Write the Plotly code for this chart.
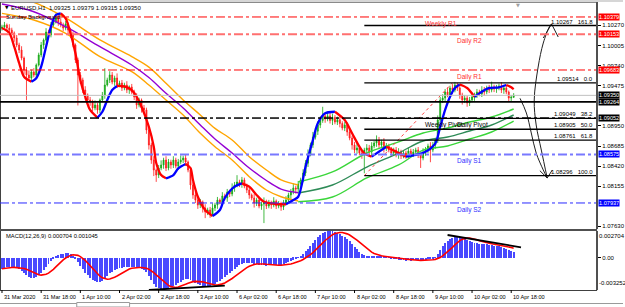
import plotly.graph_objects as go

# ---------------------------------------------------------------- data
CLOSE = [
    1.10247, 1.10274, 1.10234, 1.10208, 1.10169, 1.10103, 1.10011, 1.09945, 1.09840, 1.09683,
    1.09617, 1.09578, 1.09657, 1.09617, 1.09749, 1.09880, 1.10011, 1.10077, 1.10182, 1.10142,
    1.10274, 1.10313, 1.10366, 1.10313, 1.10274, 1.10234, 1.10287, 1.10208, 1.10142, 1.10011,
    1.09814, 1.09617, 1.09552, 1.09420, 1.09355, 1.09289, 1.09263, 1.09184, 1.09223, 1.09158,
    1.09289, 1.09355, 1.09486, 1.09552, 1.09617, 1.09525, 1.09578, 1.09486, 1.09512, 1.09447,
    1.09486, 1.09420, 1.09460, 1.09394, 1.09328, 1.09223, 1.09289, 1.09184, 1.09158, 1.08895,
    1.08698, 1.08501, 1.08370, 1.08304, 1.08396, 1.08436, 1.08501, 1.08396, 1.08475, 1.08436,
    1.08501, 1.08422, 1.08475, 1.08501, 1.08527, 1.08475, 1.08370, 1.08173, 1.08042, 1.07976,
    1.07910, 1.07950, 1.07871, 1.07818, 1.07845, 1.07792, 1.07871, 1.07910, 1.07976, 1.07950,
    1.08029, 1.08002, 1.08081, 1.08055, 1.08134, 1.08173, 1.08212, 1.08186, 1.08239, 1.08160,
    1.08107, 1.08042, 1.08002, 1.07937, 1.07976, 1.07897, 1.07923, 1.07950, 1.07897, 1.07937,
    1.07910, 1.07963, 1.07897, 1.07923, 1.07884, 1.07937, 1.07976, 1.08042, 1.08081, 1.08134,
    1.08120, 1.08186, 1.08239, 1.08330, 1.08460, 1.08580, 1.08700, 1.08800, 1.08880, 1.08960,
    1.09020, 1.09080, 1.09040, 1.09080, 1.09020, 1.09060, 1.09000, 1.09030, 1.08980, 1.08921,
    1.08961, 1.08869, 1.08790, 1.08698, 1.08632, 1.08659, 1.08593, 1.08567, 1.08632, 1.08659,
    1.08606, 1.08685, 1.08724, 1.08764, 1.08698, 1.08738, 1.08659, 1.08685, 1.08632, 1.08593,
    1.08632, 1.08567, 1.08606, 1.08554, 1.08593, 1.08567, 1.08619, 1.08580, 1.08606, 1.08632,
    1.08567, 1.08527, 1.08606, 1.08632, 1.08685, 1.08632, 1.08698, 1.08764, 1.09026, 1.09289,
    1.09315, 1.09394, 1.09355, 1.09447, 1.09420, 1.09486, 1.09447, 1.09355, 1.09289, 1.09315,
    1.09250, 1.09289, 1.09328, 1.09355, 1.09394, 1.09368, 1.09420, 1.09394, 1.09447, 1.09420,
    1.09460, 1.09433, 1.09447, 1.09473, 1.09420, 1.09447, 1.09394, 1.09315, 1.09325, 1.09350,
]
FIRST_OPEN = 1.10230
WICK_UP_PIPS = [
    3, 4, 2, 5, 3, 2, 4, 3, 5, 2, 4, 6, 3, 5, 2, 3, 4, 2, 5, 3,
    4, 3, 6, 4, 5, 3, 4, 2, 3, 4, 2, 3, 4, 3, 5, 2, 4, 3, 6, 3,
    2, 4, 22, 3, 5, 4, 3, 6, 3, 4, 3, 5, 2, 4, 3, 5, 3, 2, 4, 3,
    4, 3, 5, 2, 4, 6, 3, 5, 4, 3, 5, 3, 4, 6, 3, 4, 2, 3, 4, 5,
    3, 4, 2, 5, 3, 4, 6, 3, 4, 2, 5, 3, 4, 3, 6, 4, 9, 3, 4, 3,
    3, 4, 2, 5, 3, 4, 3, 6, 3, 4, 3, 5, 2, 4, 3, 4, 5, 3, 4, 6,
    3, 4, 3, 5, 4, 6, 3, 7, 4, 5, 5, 12, 3, 6, 4, 5, 3, 4, 6, 3,
    4, 3, 5, 3, 4, 6, 3, 4, 3, 5, 4, 5, 3, 6, 4, 3, 5, 4, 3, 4,
    3, 4, 5, 3, 4, 3, 5, 3, 4, 3, 4, 3, 5, 4, 3, 5, 4, 3, 6, 4,
    5, 4, 6, 3, 5, 4, 3, 5, 3, 4, 3, 4, 5, 3, 4, 3, 5, 4, 3, 4,
    7, 3, 4, 3, 5, 3, 4, 2, 3, 2.9,
]
WICK_DN_PIPS = [
    3, 2, 4, 3, 2, 5, 3, 4, 3, 6, 33, 4, 5, 3, 4, 2, 3, 5, 2, 4,
    3, 4, 2, 5, 3, 4, 3, 5, 4, 3, 4, 40, 5, 4, 6, 3, 5, 4, 3, 5,
    4, 3, 5, 2, 4, 3, 5, 4, 3, 4, 3, 4, 5, 3, 4, 5, 3, 6, 4, 5,
    6, 5, 8, 9, 4, 3, 5, 4, 3, 5, 4, 3, 5, 3, 4, 5, 3, 6, 5, 4,
    5, 4, 6, 8, 4, 5, 3, 4, 5, 3, 4, 3, 5, 4, 3, 5, 3, 4, 5, 3,
    4, 5, 3, 6, 4, 3, 5, 25, 4, 3, 5, 3, 4, 3, 5, 4, 3, 4, 5, 3,
    6, 4, 5, 3, 4, 5, 3, 4, 3, 5, 4, 3, 5, 3, 4, 6, 3, 4, 5, 3,
    4, 5, 3, 6, 4, 5, 3, 5, 24, 4, 5, 4, 3, 5, 4, 3, 6, 4, 3, 5,
    4, 3, 5, 4, 3, 5, 4, 3, 4, 5, 4, 13, 3, 5, 4, 16, 3, 5, 4, 3,
    4, 5, 3, 4, 5, 3, 4, 5, 6, 4, 5, 4, 3, 5, 4, 3, 4, 5, 3, 4,
    3, 4, 5, 3, 4, 5, 3, 4, 5, 1,
]
PIP = 0.0001

# colour-changing smoothed MA (read at key bars)
MA_BARS = [0, 3, 5, 7, 9, 12, 14, 16, 18, 20, 22, 24, 26, 28, 30, 32, 34, 36, 39, 41,
           43, 45, 47, 50, 53, 55, 57, 60, 62, 63, 65, 67, 70, 72, 75, 77, 78, 80, 83, 86,
           89, 91, 95, 98, 101, 104, 107, 112, 116, 119, 121, 124, 127, 129, 132, 136, 140, 143, 146, 148,
           151, 155, 157, 161, 165, 169, 173, 177, 179, 181, 183, 185, 187, 190, 193, 196, 199, 203, 206, 208, 209]
MA_VALS = [1.10234, 1.10169, 1.09989, 1.09775, 1.09595, 1.09529, 1.09574, 1.09726, 1.09989, 1.10251,
           1.10405, 1.10427, 1.10362, 1.10165, 1.09902, 1.09552, 1.09332, 1.09158, 1.09057, 1.09135,
           1.09289, 1.09420, 1.09473, 1.09468, 1.09420, 1.09332, 1.09201, 1.08938, 1.08676, 1.08462,
           1.08304, 1.08261, 1.08304, 1.08392, 1.08449, 1.08396, 1.08239, 1.08019, 1.07845, 1.07766,
           1.07845, 1.08002, 1.08151, 1.08195, 1.08151, 1.08042, 1.07954, 1.07925, 1.07920, 1.07976,
           1.08019, 1.08413, 1.08764, 1.08983, 1.09114, 1.09135, 1.09026, 1.08852, 1.08676, 1.08589,
           1.08545, 1.08632, 1.08676, 1.08610, 1.08545, 1.08567, 1.08610, 1.08721, 1.08938, 1.09158,
           1.09332, 1.09447, 1.09493, 1.09447, 1.09332, 1.09398, 1.09447, 1.09456, 1.09486, 1.09456,
           1.09430]

# slow MA with envelope (bearish phase)
ENV_BARS = [0, 13, 26, 40, 53, 60, 67, 74, 81, 87, 94, 101, 108, 114, 121]
ENV_MID = [1.10549, 1.10448, 1.10251, 1.09989, 1.09749, 1.09584, 1.09377, 1.09184, 1.08961, 1.08777,
           1.08593, 1.08396, 1.08232, 1.08120, 1.08072]
ENV_UP = [1.10660, 1.10570, 1.10366, 1.10077, 1.09858, 1.09720, 1.09508, 1.09289, 1.09092, 1.08917,
          1.08764, 1.08545, 1.08370, 1.08239, 1.08173]
ENV_LO = [1.10427, 1.10339, 1.10165, 1.09858, 1.09661, 1.09486, 1.09289, 1.09092, 1.08852, 1.08676,
          1.08501, 1.08282, 1.08107, 1.08019, 1.07963]
# same indicator, bullish phase
GRN_BARS = [121, 135, 149, 162, 172, 182, 191, 200, 209]
GRN_MID = [1.08068, 1.08173, 1.08409, 1.08593, 1.08751, 1.08803, 1.08882, 1.08961, 1.09092]
GRN_UP = [1.08212, 1.08344, 1.08593, 1.08738, 1.08856, 1.08921, 1.09000, 1.09066, 1.09171]
GRN_LO = [1.07954, 1.08015, 1.08265, 1.08436, 1.08632, 1.08685, 1.08777, 1.08869, 1.09013]

# MACD(12,26,9)
MACD_START = -0.0012
MACD_TOP, MACD_BOTTOM = 0.002704, -0.003252
MACD_TEXT = "MACD(12,26,9) 0.000704 0.001045"
MACD_DIV1_BARS, MACD_DIV1_VALS = [60, 91], [-0.00325, -0.00282]
MACD_DIV2_BARS, MACD_DIV2_VALS = [182, 212], [0.00230, 0.00106]

# pivots
PIVOT_NAMES = ["Weekly R1", "Daily R2", "Daily R1", "Weekly Pivot", "Daily Pivot", "Daily S1", "Daily S2"]
PIVOT_VALUES = [1.10379, 1.10153, 1.09683, 1.09052, 1.09052, 1.08575, 1.07937]
HLINE_BLACK = 1.09264
BID = 1.09350

# fibonacci
FIB_PRICES = [1.10267, 1.09514, 1.09049, 1.08905, 1.08761, 1.08296]
FIB_LEVELS = ["161.8", "0.0", "38.2", "50.0", "61.8", "100.0"]
FIB_BARS = [148, 184]
FIB_ANCHORS = [1.08296, 1.09514]

# hand-drawn projection
PATH_DN_BARS = [211.6, 214.2, 216.2, 218.2, 221.1, 222.7]
PATH_DN_VALS = [1.09311, 1.09118, 1.08856, 1.08593, 1.08370, 1.08265]
HEAD_DN_BARS = [219.7, 222.7, 224.8]
HEAD_DN_VALS = [1.08361, 1.08265, 1.08370]
PATH_UP_BARS = [222.7, 220.3, 218.2, 217.4, 219.0, 221.1, 223.6, 224.5]
PATH_UP_VALS = [1.08265, 1.08632, 1.08961, 1.09289, 1.09722, 1.10037, 1.10251, 1.10287]
HEAD_UP_BARS = [221.1, 224.5, 227.2]
HEAD_UP_VALS = [1.10103, 1.10287, 1.10116]

PRICE_TICKS = [1.10270, 1.10005, 1.09740, 1.09475, 1.08950, 1.08685, 1.08420, 1.08155, 1.07630]
BOX_VALUES = [1.10379, 1.10153, 1.09683, 1.09350, 1.09264, 1.09052, 1.08575, 1.07937]

TIME_BARS = [0, 16, 32, 48, 64, 80, 96, 112, 128, 144, 160, 176, 192, 208]
TIME_LABELS = ["31 Mar 2020", "31 Mar 18:00", "1 Apr 10:00", "2 Apr 02:00", "2 Apr 18:00", "3 Apr 10:00",
               "6 Apr 02:00", "6 Apr 18:00", "7 Apr 10:00", "8 Apr 02:00", "8 Apr 18:00", "9 Apr 10:00",
               "10 Apr 02:00", "10 Apr 18:00"]
TITLE = "EURUSD,H1  1.09325 1.09379 1.09315 1.09350"

# ---------------------------------------------------------------- layout constants
W, H = 625, 307
BAR_PX, FIRST_BAR_PX, PLOT_RIGHT_PX = 2.456, 2.0, 598.0
MAIN_TOP_PX, MAIN_BOT_PX = 0.0, 229.0
MACD_TOP_PX, MACD_BOT_PX = 231.0, 290.0
PRICE_AT_TOP, PRICE_PER_PX = 1.10602, 0.0001313
FONT = "Liberation Sans"


def px_x(p):
    return p / W


def px_y(p):
    return 1 - p / H


XMIN = -FIRST_BAR_PX / BAR_PX
XMAX = (PLOT_RIGHT_PX - FIRST_BAR_PX) / BAR_PX
YMAX = PRICE_AT_TOP - MAIN_TOP_PX * PRICE_PER_PX
YMIN = PRICE_AT_TOP - MAIN_BOT_PX * PRICE_PER_PX

PIVOT_STYLE = {
    "Weekly R1": dict(color="#ff0000", width=1, label="#ff3030", bar=172),
    "Daily R2": dict(color="#ff7070", width=2, label="#ff3030", bar=185),
    "Daily R1": dict(color="#ff0000", width=1, label="#ff3030", bar=185),
    "Weekly Pivot": dict(color="#000000", width=1, label="#000000", bar=172),
    "Daily Pivot": dict(color="#000000", width=1, label="#000000", bar=185),
    "Daily S1": dict(color="#7878ff", width=2, label="#3030ff", bar=185),
    "Daily S2": dict(color="#2a2aff", width=1, label="#3030ff", bar=185),
}
BOX_COLORS = ["#ff0000", "#ff0000", "#ff0000", "#000000", "#000000", "#000000", "#0000ff", "#0000ff"]

# ---------------------------------------------------------------- build OHLC
n = len(CLOSE)
idx = list(range(n))
OPEN = [FIRST_OPEN] + CLOSE[:-1]
HIGH = [max(o, c) + u * PIP for o, c, u in zip(OPEN, CLOSE, WICK_UP_PIPS)]
LOW = [min(o, c) - d * PIP for o, c, d in zip(OPEN, CLOSE, WICK_DN_PIPS)]

# MACD
a12, a26 = 2 / 13, 2 / 27
e12, e26 = CLOSE[0], CLOSE[0] - MACD_START
macd = []
for c in CLOSE:
    e12 += a12 * (c - e12)
    e26 += a26 * (c - e26)
    macd.append(e12 - e26)
signal = []
for k in range(n):
    w = macd[max(0, k - 8):k + 1]
    signal.append(sum(w) / len(w))

fig = go.Figure()

# envelopes
for xs, ys, col in [(ENV_BARS, ENV_UP, "#ffa500"), (ENV_BARS, ENV_LO, "#ffa500"), (ENV_BARS, ENV_MID, "#9400d3"),
                    (GRN_BARS, GRN_UP, "#3ad63a"), (GRN_BARS, GRN_LO, "#3ad63a"), (GRN_BARS, GRN_MID, "#2e8b57")]:
    fig.add_trace(go.Scatter(x=xs, y=ys, mode="lines", line=dict(color=col, width=1.4, shape="spline", smoothing=1.0),
                             hoverinfo="skip"))

# candles
fig.add_trace(go.Candlestick(
    x=idx, open=OPEN, high=HIGH, low=LOW, close=CLOSE,
    increasing=dict(line=dict(color="#14a814", width=0.8), fillcolor="#14a814"),
    decreasing=dict(line=dict(color="#ff1a1a", width=0.8), fillcolor="#ff1a1a"),
    whiskerwidth=0, hoverinfo="skip"))

# colour-changing MA split into rising / falling runs
runs = []
cur = [0]
cur_up = MA_VALS[1] >= MA_VALS[0]
for k in range(1, len(MA_BARS)):
    up = MA_VALS[k] >= MA_VALS[k - 1]
    if up != cur_up:
        runs.append((cur, cur_up))
        cur = [k - 1]
        cur_up = up
    cur.append(k)
runs.append((cur, cur_up))
for ids, up in runs:
    fig.add_trace(go.Scatter(x=[MA_BARS[i] for i in ids], y=[MA_VALS[i] for i in ids], mode="lines",
                             line=dict(color="#0000ff" if up else "#ff0000", width=2.3, shape="spline", smoothing=0.8),
                             hoverinfo="skip"))

# fib trend line
fig.add_trace(go.Scatter(x=FIB_BARS, y=FIB_ANCHORS, mode="lines", line=dict(color="#ff4040", width=1, dash="dot"),
                         hoverinfo="skip"))

# projection drawing
for xs, ys, sh in [(PATH_DN_BARS, PATH_DN_VALS, "spline"), (HEAD_DN_BARS, HEAD_DN_VALS, "linear"),
                   (PATH_UP_BARS, PATH_UP_VALS, "spline"), (HEAD_UP_BARS, HEAD_UP_VALS, "linear")]:
    fig.add_trace(go.Scatter(x=xs, y=ys, mode="lines", line=dict(color="#202020", width=1, shape=sh),
                             hoverinfo="skip", cliponaxis=False))

# MACD
fig.add_trace(go.Bar(x=idx, y=macd, marker=dict(color="#4848ff", line=dict(width=0)), width=0.4,
                     xaxis="x2", yaxis="y2", hoverinfo="skip"))
fig.add_trace(go.Scatter(x=idx, y=signal, mode="lines", line=dict(color="#ff0000", width=1.6),
                         xaxis="x2", yaxis="y2", hoverinfo="skip"))
for xs, ys in [(MACD_DIV1_BARS, MACD_DIV1_VALS), (MACD_DIV2_BARS, MACD_DIV2_VALS)]:
    fig.add_trace(go.Scatter(x=xs, y=ys, mode="lines", line=dict(color="#000000", width=1.8),
                             xaxis="x2", yaxis="y2", hoverinfo="skip"))

shapes = []
annots = []

# panel chrome
shapes.append(dict(type="rect", xref="paper", yref="paper", x0=0, x1=1, y0=px_y(2), y1=1,
                   fillcolor="#d6d6d6", line=dict(width=0), layer="above"))
shapes.append(dict(type="line", xref="paper", yref="paper", x0=0, x1=px_x(PLOT_RIGHT_PX), y0=px_y(2.5), y1=px_y(2.5),
                   line=dict(color="#8a8a8a", width=1)))
shapes.append(dict(type="line", xref="paper", yref="paper", x0=px_x(0.5), x1=px_x(0.5), y0=px_y(MACD_BOT_PX), y1=px_y(2),
                   line=dict(color="#404040", width=1)))
shapes.append(dict(type="line", xref="paper", yref="paper", x0=0, x1=px_x(PLOT_RIGHT_PX + 1),
                   y0=px_y(MAIN_BOT_PX + 1), y1=px_y(MAIN_BOT_PX + 1), line=dict(color="#505050", width=2)))
shapes.append(dict(type="line", xref="paper", yref="paper", x0=0, x1=px_x(PLOT_RIGHT_PX + 1),
                   y0=px_y(MACD_BOT_PX + 0.5), y1=px_y(MACD_BOT_PX + 0.5), line=dict(color="#404040", width=1)))
# bottom tab strip
shapes.append(dict(type="line", xref="paper", yref="paper", x0=0, x1=1, y0=px_y(303.5), y1=px_y(303.5),
                   line=dict(color="#9a9a9a", width=1)))
shapes.append(dict(type="rect", xref="paper", yref="paper", x0=px_x(77), x1=px_x(130), y0=px_y(307), y1=px_y(302.5),
                   fillcolor="white", line=dict(color="#9a9a9a", width=1)))

# pivot lines
for name, val in zip(PIVOT_NAMES, PIVOT_VALUES):
    st = PIVOT_STYLE[name]
    shapes.append(dict(type="line", xref="x domain", yref="y", x0=0, x1=1, y0=val, y1=val,
                       line=dict(color=st["color"], width=st["width"], dash="dashdot")))
    annots.append(dict(x=st["bar"], y=val, xref="x", yref="y", text=name, showarrow=False, xanchor="left",
                       yanchor="top", yshift=-1, font=dict(family=FONT, size=6.5, color=st["label"])))

# current bid and horizontal line
shapes.append(dict(type="line", xref="x domain", yref="y", x0=0, x1=1, y0=BID, y1=BID,
                   line=dict(color="#c0c0c0", width=1)))
shapes.append(dict(type="line", xref="x domain", yref="y", x0=0, x1=1, y0=HLINE_BLACK, y1=HLINE_BLACK,
                   line=dict(color="#000000", width=1.6)))

# fib levels
for p, lv in zip(FIB_PRICES, FIB_LEVELS):
    shapes.append(dict(type="line", xref="x", yref="y", x0=FIB_BARS[0], x1=XMAX, y0=p, y1=p,
                       line=dict(color="#000000", width=1.3)))
    annots.append(dict(x=XMAX, y=p, xref="x", yref="y", text=f"{p:.5f}   {lv}", showarrow=False,
                       xanchor="right", yanchor="bottom", xshift=-1, yshift=-1,
                       font=dict(family=FONT, size=6, color="#000000")))

# right-axis price boxes
for v, col in zip(BOX_VALUES, BOX_COLORS):
    annots.append(dict(x=px_x(PLOT_RIGHT_PX + 1.5), y=v, xref="paper", yref="y", text=f"{v:.5f}", showarrow=False,
                       xanchor="left", yanchor="middle", bgcolor=col, borderpad=0,
                       font=dict(family=FONT, size=5.6, color="#ffffff")))

# titles
annots.append(dict(x=px_x(3), y=px_y(7.5), xref="paper", yref="paper", text="▼", showarrow=False,
                   xanchor="left", yanchor="middle", font=dict(family="DejaVu Sans", size=4.5, color="#000000")))
annots.append(dict(x=px_x(9), y=px_y(7.5), xref="paper", yref="paper", text=TITLE, showarrow=False,
                   xanchor="left", yanchor="middle", font=dict(family=FONT, size=6, color="#000000")))
annots.append(dict(x=px_x(4), y=px_y(17), xref="paper", yref="paper", text="Sunday Background", showarrow=False,
                   xanchor="left", yanchor="middle", font=dict(family=FONT, size=6, color="#000000")))
annots.append(dict(x=px_x(520), y=px_y(5), xref="paper", yref="paper", text="▼", showarrow=False,
                   xanchor="center", yanchor="middle", font=dict(family="DejaVu Sans", size=5, color="#a0a0a0")))
annots.append(dict(x=px_x(4), y=px_y(236), xref="paper", yref="paper", text=MACD_TEXT, showarrow=False,
                   xanchor="left", yanchor="middle", font=dict(family=FONT, size=5.8, color="#000000")))

# MACD scale labels
annots.append(dict(x=px_x(PLOT_RIGHT_PX + 1), y=MACD_TOP, xref="paper", yref="y2", text=f"{MACD_TOP:.6f}",
                   showarrow=False, xanchor="left", yanchor="top", font=dict(family=FONT, size=6, color="#000000")))
annots.append(dict(x=px_x(PLOT_RIGHT_PX + 1), y=MACD_BOTTOM, xref="paper", yref="y2", text=f"{MACD_BOTTOM:.6f}",
                   showarrow=False, xanchor="left", yanchor="bottom", yshift=2,
                   font=dict(family=FONT, size=6, color="#000000")))

# time labels
for b, t in zip(TIME_BARS, TIME_LABELS):
    annots.append(dict(x=b, y=px_y(296.5), xref="x2", yref="paper", text=t, showarrow=False, xanchor="left",
                       yanchor="middle", xshift=0, font=dict(family=FONT, size=5.6, color="#000000")))
    shapes.append(dict(type="line", xref="x2", yref="paper", x0=b, x1=b, y0=px_y(MACD_BOT_PX), y1=px_y(MACD_BOT_PX + 3),
                       line=dict(color="#000000", width=1)))

axis_common = dict(showgrid=False, zeroline=False, fixedrange=True)
fig.update_layout(
    width=W, height=H, margin=dict(l=0, r=0, t=0, b=0),
    paper_bgcolor="white", plot_bgcolor="white", showlegend=False, bargap=0, boxgap=0.45,
    xaxis=dict(domain=[0, px_x(PLOT_RIGHT_PX)], range=[XMIN, XMAX], showticklabels=False, ticks="",
               showline=False, rangeslider=dict(visible=False), anchor="y", **axis_common),
    yaxis=dict(domain=[px_y(MAIN_BOT_PX), px_y(MAIN_TOP_PX)], range=[YMIN, YMAX], side="right",
               tickvals=PRICE_TICKS, ticktext=[f"{v:.5f}" for v in PRICE_TICKS], ticks="outside", ticklen=3,
               tickcolor="#000000", tickfont=dict(family=FONT, size=6, color="#000000"),
               showline=True, linecolor="#505050", linewidth=2, anchor="x", **axis_common),
    xaxis2=dict(domain=[0, px_x(PLOT_RIGHT_PX)], range=[XMIN, XMAX], showticklabels=False, ticks="",
                showline=False, anchor="y2", matches="x", **axis_common),
    yaxis2=dict(domain=[px_y(MACD_BOT_PX), px_y(MACD_TOP_PX)], range=[MACD_BOTTOM, MACD_TOP], side="right",
                tickvals=[0], ticktext=["0.00"], ticks="outside", ticklen=3, tickcolor="#000000",
                tickfont=dict(family=FONT, size=6, color="#000000"),
                showline=True, linecolor="#505050", linewidth=2, anchor="x2", **axis_common),
    shapes=shapes, annotations=annots,
)

fig.write_html("out.html")
